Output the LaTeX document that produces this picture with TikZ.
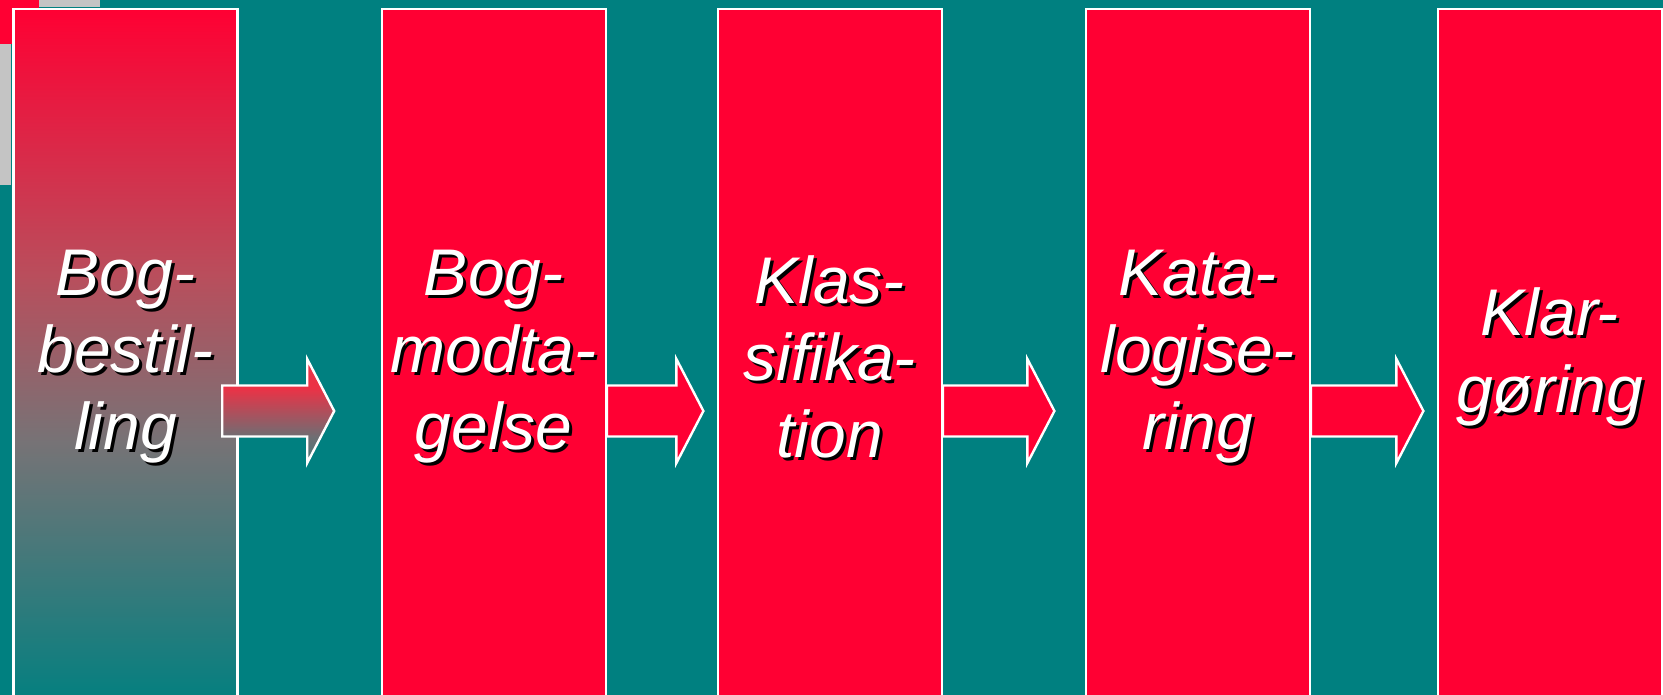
\documentclass[tikz,border=0pt]{standalone}
\usepackage{fontspec}
\setmainfont{Liberation Sans}
\definecolor{havblaa}{HTML}{008080}
\definecolor{rubin}{HTML}{FF0033}
\definecolor{graa}{HTML}{C4C4C4}
\definecolor{muld}{RGB}{118,115,118}
\definecolor{rosa}{RGB}{185,78,92}
\definecolor{pilrod}{RGB}{235,50,70}
\definecolor{pilgraa}{RGB}{110,110,115}
\definecolor{pilbund}{RGB}{70,120,120}
\pgfdeclareverticalshading{bogshade}{100bp}{color(0bp)=(havblaa); color(25bp)=(havblaa);
    color(44bp)=(muld); color(56bp)=(rosa); color(75bp)=(rubin); color(100bp)=(rubin)}
\pgfdeclareverticalshading{pilshade}{100bp}{color(0bp)=(pilbund); color(25bp)=(pilbund);
    color(37.5bp)=(pilgraa); color(61bp)=(pilrod); color(100bp)=(pilrod)}

\begin{document}
\begin{tikzpicture}[x=1pt,y=-1pt,
    stage/.style={draw=white,line width=2.4pt,fill=rubin,anchor=north west,
        minimum width=224pt,minimum height=700pt,inner sep=0pt},
    stagetext/.style={align=center,text=white,
        font=\fontsize{66}{77}\selectfont\itshape},
    stageshadow/.style={stagetext,text=black},
    blockarrow/.style={draw=white,line width=2.4pt,fill=rubin}]
    \useasboundingbox (0,0) rectangle (1663,695);
    \clip (0,0) rectangle (1663,695);
    % background and the little corner pieces
    \fill [havblaa] (0,0) rectangle (1663,695);
    \fill [rubin] (0,0) rectangle (39,44);
    \fill [graa] (39,0) rectangle (100,7);
    \fill [graa] (0,44) rectangle (11,185);
    \coordinate (mid) at (0,357);
    \coordinate (pipe) at (0,411);
    % the five stages
    \node [stage,shade,shading=bogshade] (bestil) at (12.3,8) {};
    \node [stage] (modtag) at (380.5,8) {};
    \node [stage] (klass) at (716.5,8) {};
    \node [stage] (katalog) at (1084.5,8) {};
    \node [stage] (klar) at (1436.5,8) {};
    \foreach \stg/\txt in {bestil/{Bog-\\bestil-\\ling},modtag/{Bog-\\modta-\\gelse},
        klass/{Klas-\\sifika-\\tion},katalog/{Kata-\\logise-\\ring},klar/{Klar-\\gøring}}
    {
        \node [stageshadow] at ([shift={(3,3)}]\stg.north |- mid) {\txt};
        \node [stagetext] (\stg-txt) at (\stg.north |- mid) {\txt};
    }
    % arrows between the stages
    \draw [blockarrow,shade,shading=pilshade]
        ([xshift=-16.5pt]bestil.east |- pipe) ++(0,-25.5) -- ++(85,0) -- ++(0,-26.5)
        -- ++(27,52) -- ++(-27,52) -- ++(0,-26.5) -- ++(-85,0) -- cycle;
    \foreach \src/\len in {modtag/96.5,klass/111.5,katalog/112.5}
        \draw [blockarrow] (\src.east |- pipe) ++(0,-25.5) -- ++(\len-27,0) -- ++(0,-26.5)
            -- ++(27,52) -- ++(-27,52) -- ++(0,-26.5) -- ++(27-\len,0) -- cycle;
\end{tikzpicture}
\end{document}
